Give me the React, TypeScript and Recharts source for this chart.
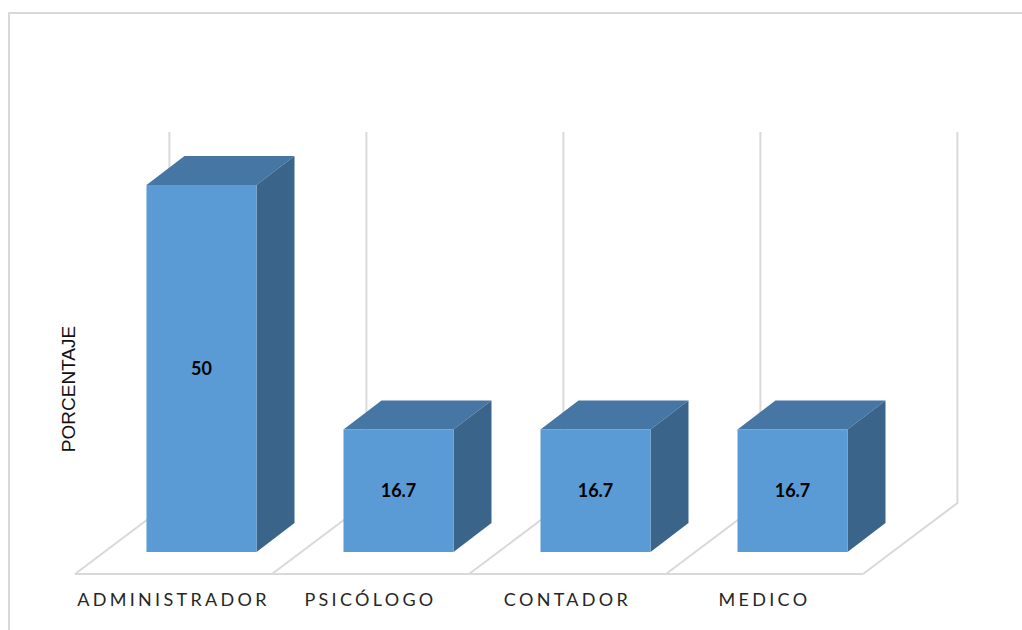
import React from "react";
import { Bar, BarChart, Customized, LabelList, XAxis, YAxis } from "recharts";

const categories = ["ADMINISTRADOR", "PSICÓLOGO", "CONTADOR", "MEDICO"];
const porcentaje = [50, 16.7, 16.7, 16.7];

const data = categories.map((name, i) => ({ name, value: porcentaje[i] }));

const GRID = "#d9d9d9";
const FRONT = "#5b9bd5";
const TOP = "#4676a3";
const SIDE = "#3a6489";

// Depth of the bar boxes and of the floor, in screen pixels
const BAR_DX = 38;
const BAR_DY = 29;
const FLOOR_DX = 94.4;
const FLOOR_DY = 71;
const FLOOR_LEFT = 75;
const FLOOR_Y = 574;
const BAND = 197;
const WALL_TOP = 132;

const Box = (props: any) => {
  const { x, y, width, height } = props;
  const r = x + width;
  const b = y + height;
  return (
    <g>
      <polygon
        points={`${x},${y} ${x + BAR_DX},${y - BAR_DY} ${r + BAR_DX},${y - BAR_DY} ${r},${y}`}
        fill={TOP}
      />
      <polygon
        points={`${r},${y} ${r + BAR_DX},${y - BAR_DY} ${r + BAR_DX},${b - BAR_DY} ${r},${b}`}
        fill={SIDE}
      />
      <rect x={x} y={y} width={width} height={height} fill={FRONT} />
    </g>
  );
};

// Floor outline and back wall lines
const Floor = () => {
  const steps = [0, 1, 2, 3, 4];
  const backY = FLOOR_Y - FLOOR_DY;
  return (
    <g stroke={GRID} strokeWidth={2} fill="none">
      <line x1={FLOOR_LEFT} y1={FLOOR_Y} x2={FLOOR_LEFT + BAND * 4} y2={FLOOR_Y} />
      {steps.map((s) => {
        const fx = FLOOR_LEFT + BAND * s;
        const bx = fx + FLOOR_DX;
        return (
          <polyline key={s} points={`${fx},${FLOOR_Y} ${bx},${backY} ${bx},${WALL_TOP}`} />
        );
      })}
    </g>
  );
};

const CategoryTick = (props: any) => {
  const { x, payload } = props;
  return (
    <text
      x={x - 28}
      y={606}
      textAnchor="middle"
      fontFamily="Lato, sans-serif"
      fontSize={18}
      letterSpacing={3.3}
      fill="#262626"
    >
      {payload.value}
    </text>
  );
};

const AxisTitle = () => (
  <text
    transform="translate(75 389) rotate(-90)"
    textAnchor="middle"
    fontFamily="'Liberation Sans', Arial, sans-serif"
    fontSize={19}
    fill="#111"
  >
    PORCENTAJE
  </text>
);

export default function App() {
  return (
    <div style={{ position: "absolute", left: 0, top: 0, width: 1022, height: 630, background: "#fff" }}>
      {/* Outer frame: only the top and left edges are visible */}
      <div style={{ position: "absolute", left: 8, top: 12, width: 1014, height: 2, background: GRID }} />
      <div style={{ position: "absolute", left: 8, top: 12, width: 2, height: 618, background: GRID }} />
      <BarChart
        width={1022}
        height={630}
        data={data}
        margin={{ top: 185, right: 131, bottom: 0, left: 0 }}
        barCategoryGap={43.5}
        style={{ position: "absolute", left: 0, top: 0 }}
      >
        <Customized component={Floor} />
        <Customized component={AxisTitle} />
        <XAxis
          dataKey="name"
          height={78}
          interval={0}
          axisLine={false}
          tickLine={false}
          tick={<CategoryTick />}
        />
        <YAxis width={103} domain={[0, 50]} tick={false} axisLine={false} tickLine={false} />
        <Bar dataKey="value" shape={<Box />} isAnimationActive={false}>
          <LabelList
            dataKey="value"
            position="center"
            style={{ fontFamily: "Lato, sans-serif", fontWeight: 700, fontSize: 18, fill: "#000" }}
          />
        </Bar>
      </BarChart>
    </div>
  );
}
